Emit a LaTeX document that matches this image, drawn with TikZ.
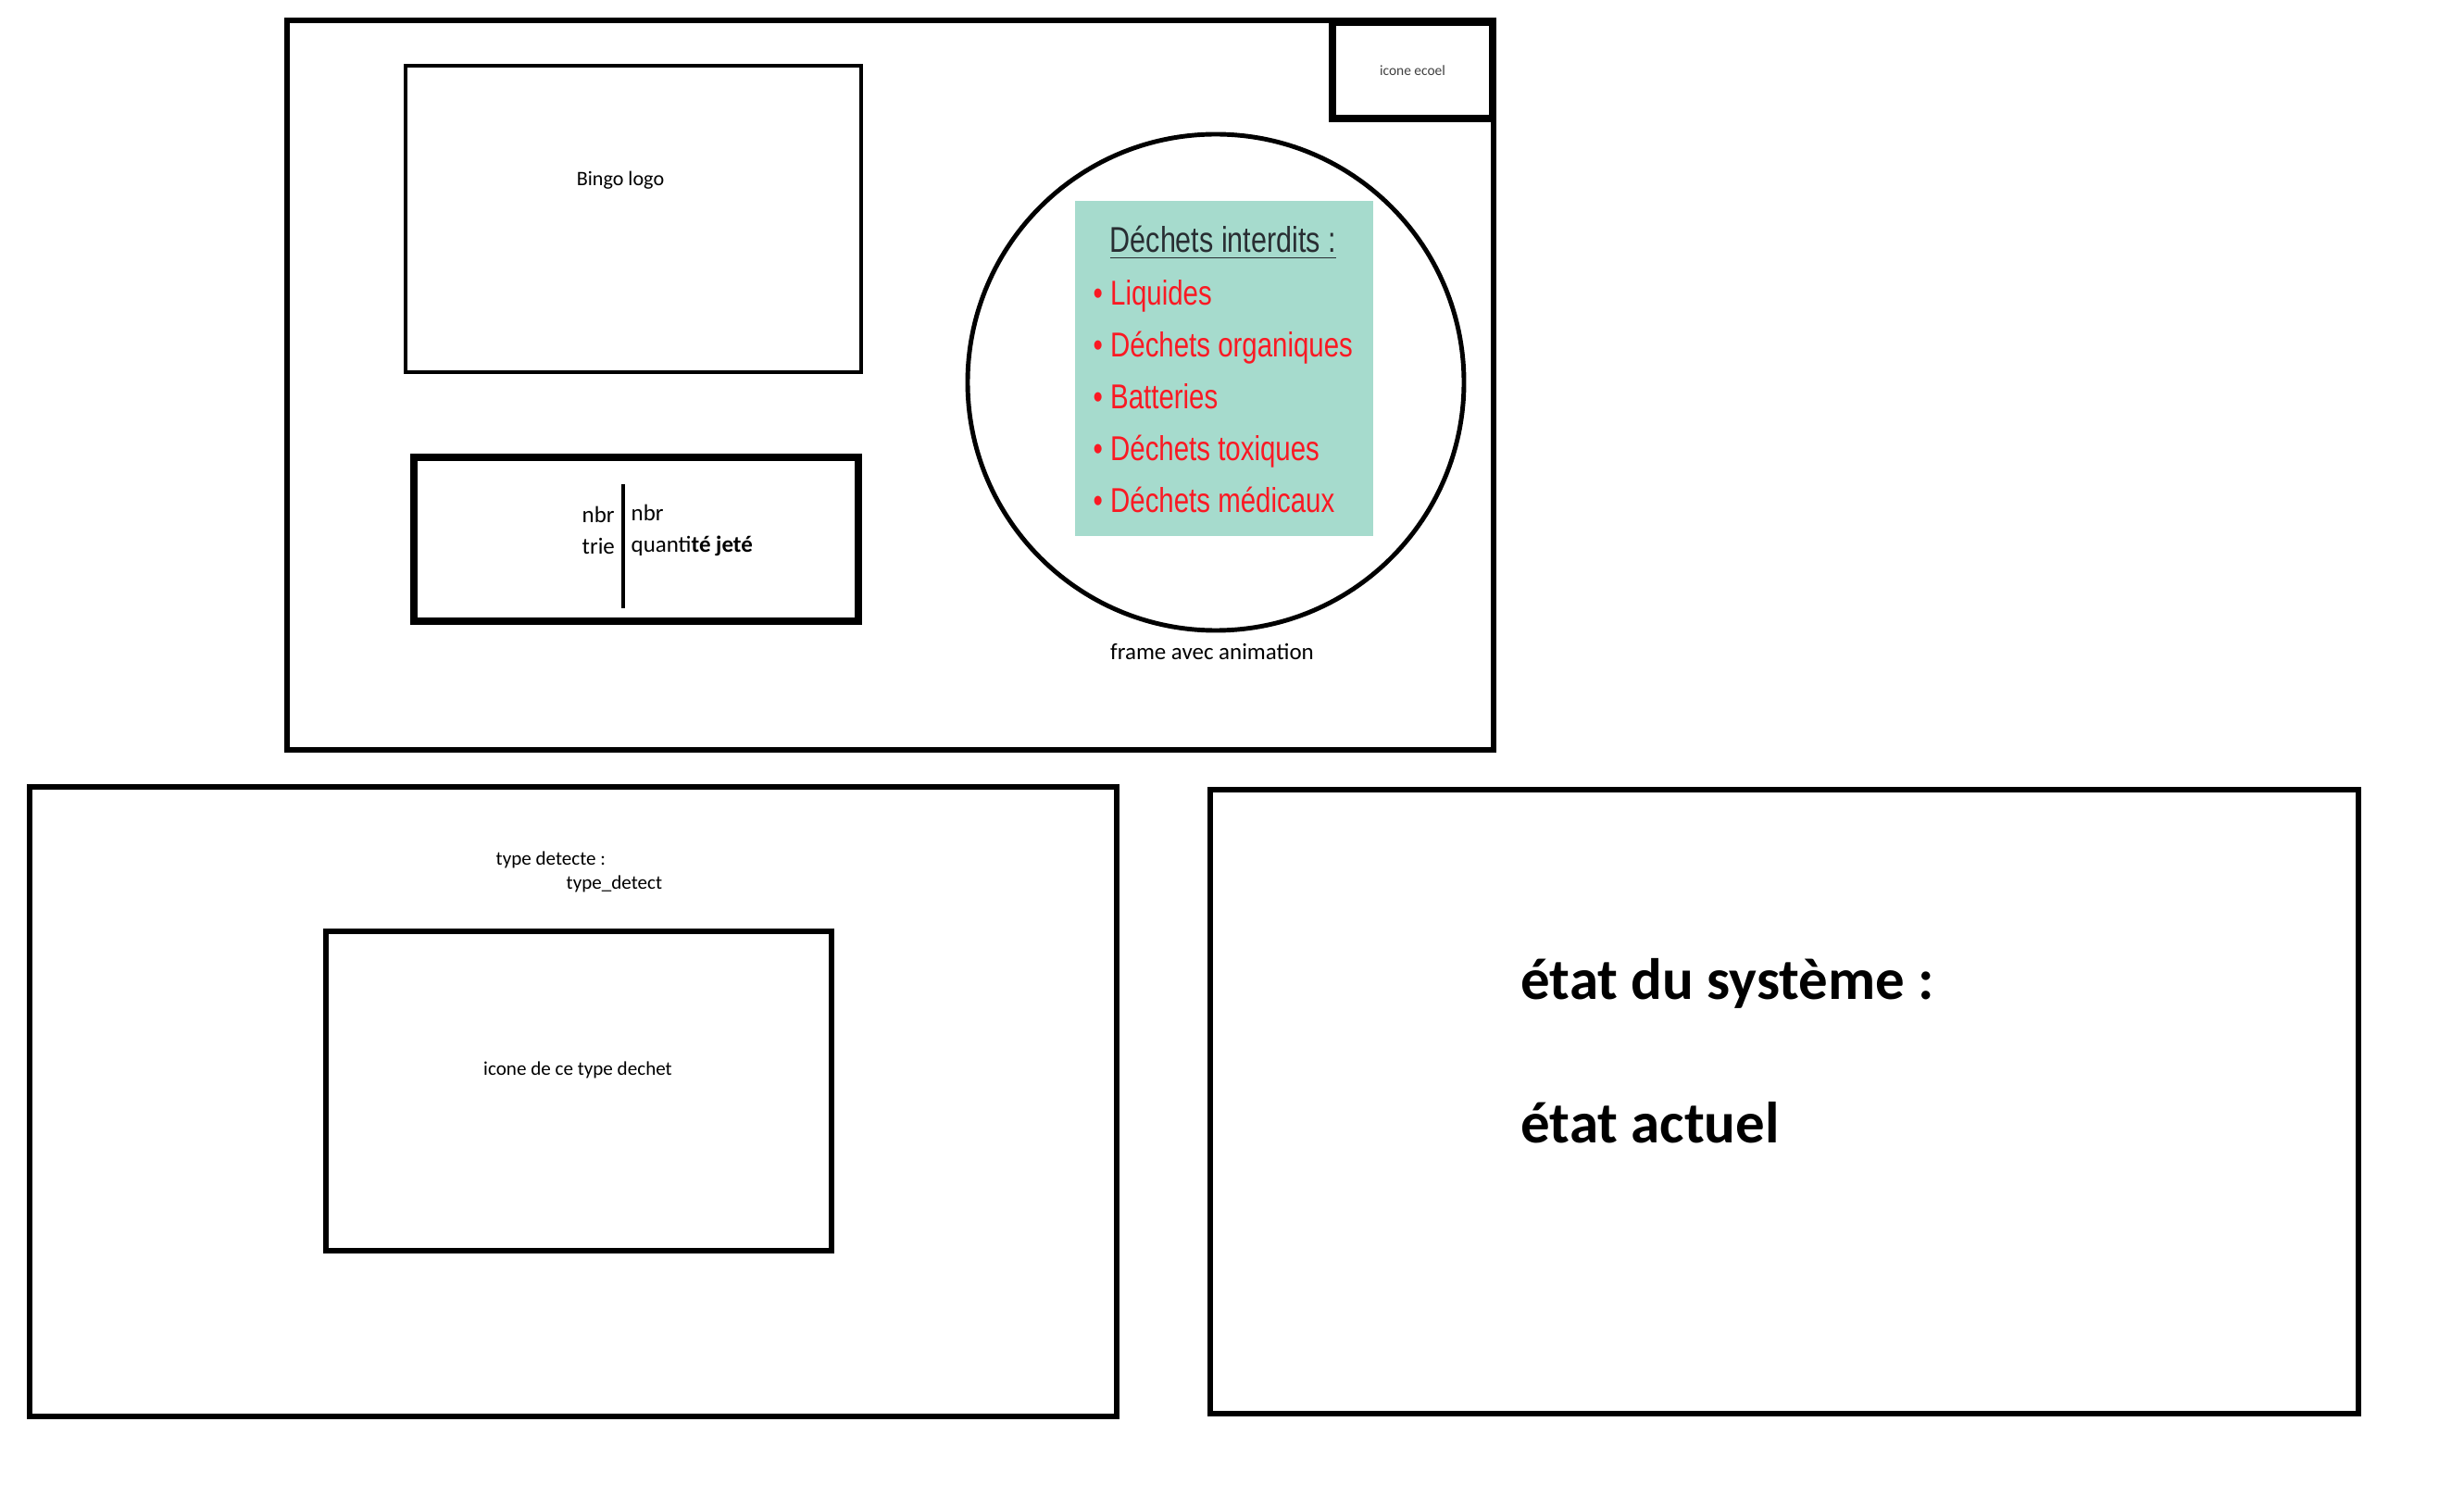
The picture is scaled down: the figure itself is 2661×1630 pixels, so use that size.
\documentclass[tikz,border=0pt]{standalone}
\usepackage{fontspec}
\setmainfont{Carlito}
\newfontfamily\narrowsans[FakeStretch=0.79]{Liberation Sans}
\definecolor{panelteal}{RGB}{166,219,205}
\definecolor{listred}{RGB}{250,25,35}
\definecolor{titlegrey}{RGB}{40,45,50}

\begin{document}
\begin{tikzpicture}
    [x=0.1mm,y=-0.1mm,
    box/.style={shape=rectangle,draw=black,line width=1.7pt,inner sep=0pt},
    thickbox/.style={box,line width=2.3pt},
    thinbox/.style={box,line width=1.4pt},
    note/.style={inner sep=0pt,font=\fontsize{6pt}{7pt}\selectfont},
    item/.style={anchor=base west,inner sep=0pt,text=listred,font=\narrowsans\fontsize{10.6pt}{12pt}\selectfont},
    state/.style={anchor=base west,inner sep=0pt,font=\bfseries\fontsize{17.9pt}{20pt}\selectfont},
    divider/.style={line width=1.4pt}]

    \useasboundingbox (0,0) rectangle (2661,1630);

    % main screen
    \node (screen) [box,minimum width=130.3mm,minimum height=78.8mm] at (961.5,416) {};
    \node (ecoicon) [box,line width=2pt,minimum width=17.3mm,minimum height=10.4mm,text=black!75,font=\fontsize{4.4pt}{5pt}\selectfont] at (1525.5,76) {icone ecoel};
    \node (logo) [thinbox,minimum width=49.2mm,minimum height=33.1mm] at (684,236.5) {};
    \node (logotext) [note,font=\fontsize{6.3pt}{7pt}\selectfont] at (670,195) {Bingo logo};

    % counters
    \node (counter) [thickbox,minimum width=48mm,minimum height=17.7mm] at (687,582.5) {};
    \coordinate (divtop) at (673,523);
    \coordinate (divbot) at (673,657);
    \draw [divider] (divtop) -- (divbot);
    \node (sorted) [note,anchor=west,align=left,font=\fontsize{7.1pt}{9.7pt}\selectfont] at (628,573) {nbr\\trie};
    \node (thrown) [note,anchor=west,align=left,font=\fontsize{7.1pt}{9.7pt}\selectfont] at (681,573) {nbr\\quanti\textbf{té jeté}};

    % animated frame
    \node (anim) [shape=circle,draw=black,line width=1.4pt,minimum size=53.6mm,inner sep=0pt] at (1313,413) {};
    \node (banned) [shape=rectangle,fill=panelteal,minimum width=32.2mm,minimum height=36.2mm,inner sep=0pt] at (1322,398.5) {};
    \node (bantitle) [item,text=titlegrey,font=\narrowsans\fontsize{11pt}{13pt}\selectfont] at (1198,273) {\underline{Déchets interdits :}};
    \node (liquid) [item] at (1180,330) {• Liquides};
    \node (organic) [item] at (1180,386) {• Déchets organiques};
    \node (battery) [item] at (1180,442) {• Batteries};
    \node (toxic) [item] at (1180,498) {• Déchets toxiques};
    \node (medical) [item] at (1180,554) {• Déchets médicaux};
    \node (animtext) [note,font=\fontsize{7.1pt}{8pt}\selectfont] at (1309,704) {frame avec animation};

    % detection
    \node (detect) [box,minimum width=117.4mm,minimum height=68mm] at (619,1190) {};
    \node (detectlabel) [note,anchor=west] at (535,929) {type detecte :};
    \node (detectvar) [note,anchor=west] at (611,955) {type\_detect};
    \node (wasteicon) [box,minimum width=54.6mm,minimum height=34.5mm] at (625,1178.5) {};
    \node (wastetext) [note] at (624,1156) {icone de ce type dechet};

    % system state
    \node (status) [box,minimum width=124mm,minimum height=67.4mm] at (1927,1190) {};
    \node (statustitle) [state] at (1642,1079) {état du système :};
    \node (statusnow) [state] at (1642,1234) {état actuel};

\end{tikzpicture}
\end{document}
